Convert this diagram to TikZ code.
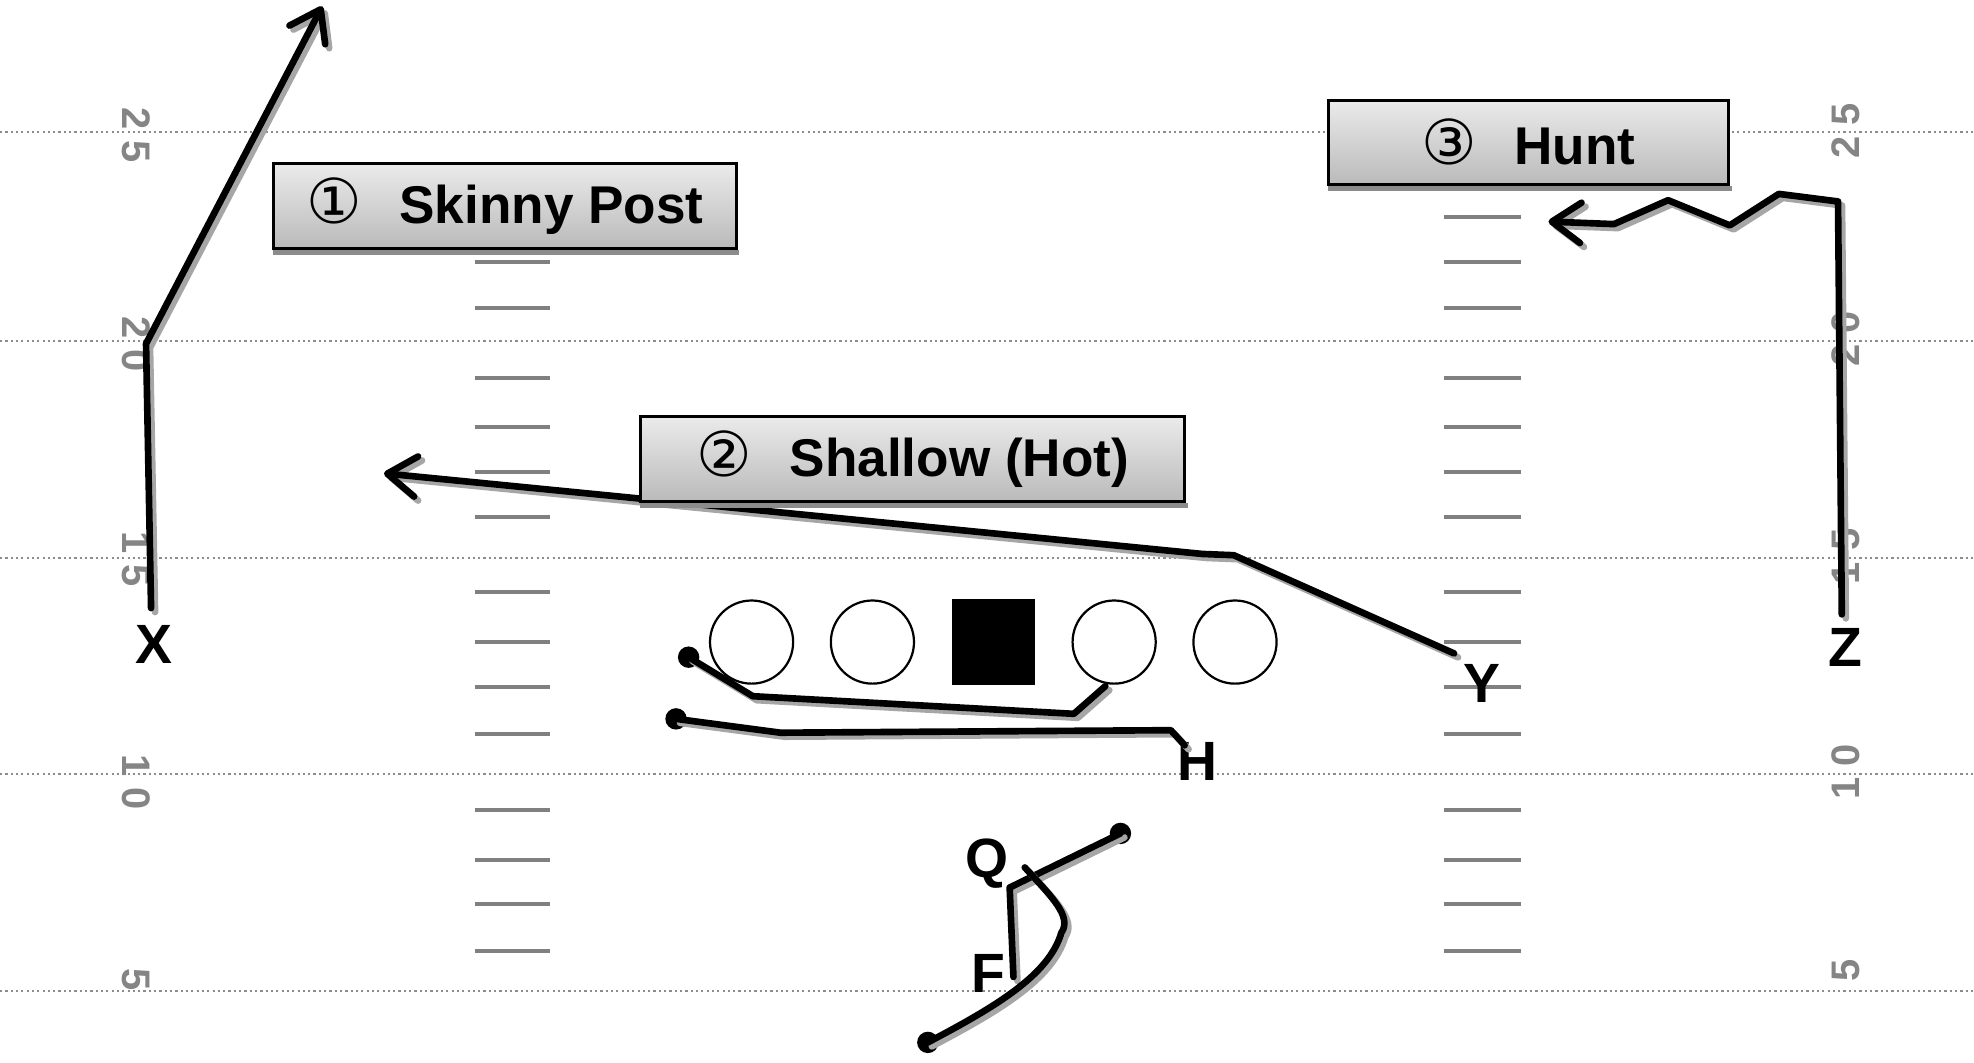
\documentclass[tikz,border=0pt]{standalone}
\usepackage{fontspec}
\setmainfont{Liberation Sans}
\newfontfamily\dvfont{DejaVu Sans}
\newcommand\circnum[1]{{\dvfont\mdseries\fontsize{14}{14}\selectfont\symbol{#1}}}
\usetikzlibrary{arrows.meta}
\begin{document}
\begin{tikzpicture}[x=0.01cm,y=-0.01cm,
  yardline/.style={draw=black!45, line width=0.45pt, dash pattern=on 0.5pt off 0.7pt},
  hashmark/.style={draw=black!50, line width=0.9pt},
  yardnum/.style={text=black!48, font=\bfseries\fontsize{9}{10}\selectfont, inner sep=0pt},
  player/.style={font=\bfseries\fontsize{12.5}{14}\selectfont, inner sep=0pt},
  lineman/.style={circle, draw=black, line width=0.5pt, fill=white, minimum size=0.66cm, inner sep=0pt},
  center/.style={rectangle, fill=black, minimum width=0.66cm, minimum height=0.68cm, inner sep=0pt},
  dot/.style={circle, fill=black, minimum size=0.17cm, inner sep=0pt},
  route/.style={draw=black, line width=1.5pt, line join=round, line cap=round,
    preaction={draw=black!35, line width=1.5pt, line cap=round, line join=round, transform canvas={shift={(0.9pt,-0.9pt)}}}},
  barb/.style={-{Straight Barb[length=0.23cm, width=0.32cm, line cap=round, line join=round]}},
  routearrow/.style={draw=black, line width=1.5pt, line join=round, line cap=round, barb,
    preaction={draw=black!35, line width=1.5pt, line cap=round, line join=round, barb, transform canvas={shift={(0.9pt,-0.9pt)}}}},
  playbox/.style={rectangle, draw=black, line width=0.7pt, top color=black!8, bottom color=black!27,
    minimum height=0.67cm, inner sep=0pt, font=\bfseries\fontsize{12}{14}\selectfont},
  boxshadow/.style={fill=black!45}
]
\useasboundingbox (0,0) rectangle (1568,844);

% yard lines
\foreach \yy in {105,271,443,615,787}
  \draw[yardline] (0,\yy) -- (1568,\yy);

% hash marks
\foreach \yy in {139,172,208,245,300,339,375,411,470,510,546,583,643,683,718,755} {
  \draw[hashmark] (377,\yy) -- (437,\yy);
  \draw[hashmark] (1147,\yy) -- (1208,\yy);
}

% yard numbers
\node[yardnum, rotate=-90] (l25) at (108,107) {2\kern2.5pt5};
\node[yardnum, rotate=-90] (l20) at (108,273) {2\kern2.5pt0};
\node[yardnum, rotate=-90] (l15) at (108,444) {1\kern2.5pt5};
\node[yardnum, rotate=-90] (l10) at (108,621) {1\kern2.5pt0};
\node[yardnum, rotate=-90] (l5) at (108,778) {5};
\node[yardnum, rotate=90] (r25) at (1466,104) {2\kern2.5pt5};
\node[yardnum, rotate=90] (r20) at (1466,269) {2\kern2.5pt0};
\node[yardnum, rotate=90] (r15) at (1466,442) {1\kern2.5pt5};
\node[yardnum, rotate=90] (r10) at (1466,613) {1\kern2.5pt0};
\node[yardnum, rotate=90] (r5) at (1466,771) {5};

% offensive line
\node[lineman] (lt) at (597,510) {};
\node[lineman] (lg) at (693,510) {};
\node[center] (c) at (789,510) {};
\node[lineman] (rg) at (885,510) {};
\node[lineman] (rt) at (981,510) {};

% player labels
\node[player] (X) at (122,512) {X};
\node[player] (Y) at (1177,543) {Y};
\node[player] (Z) at (1466,514) {Z};
\node[player] (H) at (951,605) {H};
\node[player] (Q) at (784,686) {Q};
\node[player] (F) at (785,773) {F};

% route coordinates
\coordinate (xs) at (120,483);
\coordinate (xb) at (116,273);
\coordinate (xe) at (256,5);

\coordinate (ys) at (1155,519);
\coordinate (y1) at (980,441);
\coordinate (y2) at (955,440);
\coordinate (ye) at (305,376);

\coordinate (zs) at (1463,488);
\coordinate (z1) at (1460,160);
\coordinate (z2) at (1413,154);
\coordinate (z3) at (1374,179);
\coordinate (z4) at (1325,159);
\coordinate (z5) at (1282,178);
\coordinate (ze) at (1230,176);

\node[dot] (gdot) at (547,522) {};
\coordinate (g1) at (598,553);
\coordinate (g2) at (853,567);
\coordinate (ge) at (878,545);

\node[dot] (hdot) at (537,571) {};
\coordinate (h1) at (620,582);
\coordinate (h2) at (930,580);
\coordinate (hs) at (941,592);

\node[dot] (qdot) at (890,662) {};
\coordinate (qc) at (802,705);
\coordinate (qe) at (805,776);

\coordinate (fs) at (814,689);
\coordinate (fm) at (843,741);
\node[dot] (fdot) at (737,828) {};

% routes
\draw[routearrow] (xs) -- (xb) -- (xe);
\draw[routearrow] (ys) -- (y1) -- (y2) -- (ye);
\draw[routearrow] (zs) -- (z1) -- (z2) -- (z3) -- (z4) -- (z5) -- (ze);
\draw[route] (gdot.center) -- (g1) -- (g2) -- (ge);
\draw[route] (hdot.center) -- (h1) -- (h2) -- (hs);
\draw[route] (qdot.center) -- (qc) -- (qe);
\draw[route] (fs) .. controls (835,712) and (852,728) .. (fm) .. controls (833,775) and (790,800) .. (fdot.center);

% labels
\node[playbox, minimum width=3.68cm] (b1) at (401,163.5) {\circnum{"2460}\hspace{0.3cm}Skinny Post};
\node[playbox, minimum width=4.32cm] (b2) at (725,364.5) {\circnum{"2461}\hspace{0.3cm}Shallow (Hot)};
\node[playbox, minimum width=3.18cm] (b3) at (1214,113) {\circnum{"2462}\hspace{0.3cm}Hunt};
\foreach \b in {b1,b2,b3}
  \fill[boxshadow] ([xshift=0.3pt]\b.south west) rectangle ([xshift=0.3pt,yshift=-1.2pt]\b.south east);
\end{tikzpicture}
\end{document}
